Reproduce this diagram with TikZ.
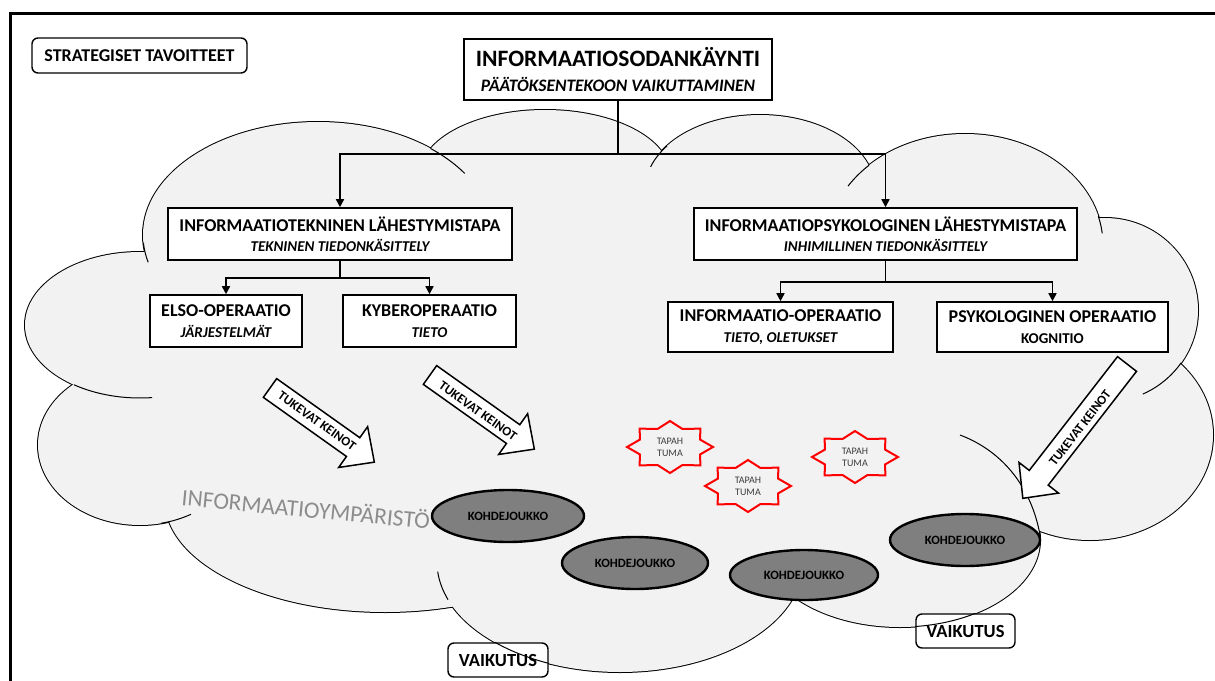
\documentclass[tikz,border=0pt]{standalone}
\usepackage{fontspec}
\setmainfont{Carlito}
\usetikzlibrary{arrows.meta,shapes.geometric,calc}
\definecolor{cloudfill}{RGB}{242,242,242}
\definecolor{kohdefill}{RGB}{127,127,127}
\definecolor{envtext}{RGB}{140,140,140}
\definecolor{starred}{RGB}{255,0,0}
\definecolor{startxt}{RGB}{60,60,60}
\newcommand{\lobearc}[6]{\draw[cloudline] ({#1+#3*cos(#5)},{#2+#4*sin(#5)}) arc[start angle=#5, end angle=#6, x radius=#3, y radius=#4];}
\newcommand{\tukarrow}[4]{\draw[blockarrow, shift={#1}, rotate=#2] (0,-#4) -- ({#3-26},-#4) -- ({#3-26},-25) -- (#3,0) -- ({#3-26},25) -- ({#3-26},#4) -- (0,#4) -- cycle;}
\newcommand{\starshape}[2]{\draw[starline] plot[domain=0:15, samples=16, variable=\k] ({#1+(43-10.5*mod(\k,2))*cos(\k*22.5)}, {#2+(26-6.5*mod(\k,2))*sin(\k*22.5)}) -- cycle;}
\newcommand{\subline}{\fontsize{15}{18}\selectfont\bfseries\itshape}
\begin{document}
\begin{tikzpicture}[x=1pt, y=-1pt,
  cloudline/.style={draw=black, line width=1pt},
  opbox/.style={draw=black, line width=1.6pt, fill=white, align=center, inner sep=0pt, font=\fontsize{18}{20.5}\selectfont\bfseries},
  conn/.style={draw=black, line width=1.6pt, -{Triangle[length=8pt, width=8pt]}},
  connplain/.style={draw=black, line width=1.6pt},
  roundbox/.style={draw=black, line width=1.4pt, fill=white, rounded corners=6pt, inner sep=0pt},
  kohde/.style={ellipse, draw=black, line width=2.4pt, fill=kohdefill, inner sep=0pt, font=\fontsize{12.7}{14}\selectfont\bfseries},
  starline/.style={draw=starred, line width=2pt, fill=cloudfill, line join=miter},
  startext/.style={align=center, inner sep=0pt, text=startxt, font=\fontsize{10}{12}\selectfont},
  blockarrow/.style={draw=black, line width=1.5pt, fill=white, line join=miter},
  tuktext/.style={inner sep=0pt, font=\fontsize{13}{15}\selectfont\bfseries}
]
\useasboundingbox (0,0) rectangle (1215,680);
\fill[white] (0,0) rectangle (1215,680);

% ---------- cloud ----------
\foreach \cx/\cy/\rx/\ry in {318/235/175/113, 545/175/125/65, 760/190/115/75, 965/245/138/111, 1105/310/93/92, 1090/435/123/105, 900/540/140/87, 620/562/183/110, 385/500/220/112, 140/445/102/80, 140/325/115/73}
  \draw[line width=2pt] (\cx,\cy) ellipse[x radius=\rx, y radius=\ry];
\foreach \cx/\cy/\rx/\ry in {318/235/175/113, 545/175/125/65, 760/190/115/75, 965/245/138/111, 1105/310/93/92, 1090/435/123/105, 900/540/140/87, 620/562/183/110, 385/500/220/112, 140/445/102/80, 140/325/115/73}
  \fill[cloudfill] (\cx,\cy) ellipse[x radius=\rx, y radius=\ry];
\fill[cloudfill] (620,380) ellipse[x radius=450, y radius=200];
% inner hooks of the cloud outline
\lobearc{318}{235}{175}{113}{176}{166}
\lobearc{318}{235}{175}{113}{-50}{-33}
\lobearc{140}{325}{115}{73}{125}{84}
\lobearc{140}{445}{102}{80}{78}{60}
\lobearc{620}{562}{183}{110}{160}{175}
\lobearc{1105}{310}{93}{92}{35}{66}
\lobearc{965}{245}{138}{111}{226}{212}
\lobearc{965}{245}{138}{111}{-15}{-6}
\lobearc{760}{190}{115}{75}{198}{216}
\draw[cloudline] (960,435) .. controls (1005,452) and (1032,490) .. (1040,535);

% ---------- frame ----------
\draw[line width=3pt] (10.5,720) -- (10.5,13) -- (1260,13);

% ---------- top labels ----------
\node[roundbox, minimum width=215, minimum height=35, font=\fontsize{18}{21}\selectfont\bfseries] (strat) at (139.5,55.5) {STRATEGISET TAVOITTEET};
\node[draw=black, line width=2.2pt, fill=white, align=center, inner sep=0pt, minimum width=308, minimum height=61, font=\fontsize{23.5}{25.5}\selectfont\bfseries] (title) at (618,69.5)
  {INFORMAATIOSODANKÄYNTI\\{\fontsize{17.5}{20}\selectfont\bfseries\itshape PÄÄTÖKSENTEKOON VAIKUTTAMINEN}};

% ---------- approach boxes ----------
\node[opbox, minimum width=344, minimum height=52] (lbox) at (340,234)
  {INFORMAATIOTEKNINEN LÄHESTYMISTAPA\\{\subline TEKNINEN TIEDONKÄSITTELY}};
\node[opbox, minimum width=383, minimum height=52] (rbox) at (885.5,234)
  {INFORMAATIOPSYKOLOGINEN LÄHESTYMISTAPA\\{\subline INHIMILLINEN TIEDONKÄSITTELY}};
\node[opbox, minimum width=152, minimum height=52] (elso) at (226,321)
  {ELSO-OPERAATIO\\{\subline JÄRJESTELMÄT}};
\node[opbox, minimum width=173, minimum height=52] (kyber) at (429.5,321)
  {KYBEROPERAATIO\\{\subline TIETO}};
\node[opbox, minimum width=225, minimum height=50] (infop) at (780.5,327)
  {INFORMAATIO-OPERAATIO\\{\subline TIETO, OLETUKSET}};
\node[opbox, minimum width=231, minimum height=50] (psy) at (1052.5,327)
  {PSYKOLOGINEN OPERAATIO\\{\fontsize{15}{18}\selectfont\bfseries KOGNITIO}};

% ---------- connectors ----------
\coordinate (j1) at (618,154);
\coordinate (j2) at (340,278);
\coordinate (j3) at (885.5,282);
\draw[connplain] (title.south) -- (j1);
\draw[conn] (j1) -| (lbox.north);
\draw[conn] (j1) -| (rbox.north);
\draw[connplain] (lbox.south) -- (j2);
\draw[conn] (j2) -| (elso.north);
\draw[conn] (j2) -| (kyber.north);
\draw[connplain] (rbox.south) -- (j3);
\draw[conn] (j3) -| (infop.north);
\draw[conn] (j3) -| (psy.north);

% ---------- supporting arrows ----------
\tukarrow{(270,388)}{-35.4}{128}{11.5}
\tukarrow{(430,375)}{-35.4}{128}{11.5}
\tukarrow{(1127,364)}{-127.8}{170}{12}
\node[tuktext, rotate=-35.4] (tk1) at (317,421) {TUKEVAT KEINOT};
\node[tuktext, rotate=-35.4] (tk2) at (478,411) {TUKEVAT KEINOT};
\node[tuktext, rotate=52.2] (tk3) at (1080,428) {TUKEVAT KEINOT};

% ---------- events ----------
\starshape{670}{447}
\starshape{748}{486}
\starshape{855}{457}
\node[startext] (ev1) at (670,447) {TAPAH\\TUMA};
\node[startext] (ev2) at (748,486) {TAPAH\\TUMA};
\node[startext] (ev3) at (855,457) {TAPAH\\TUMA};

% ---------- environment label ----------
\node[inner sep=0pt, text=envtext, rotate=-5.5, font=\fontsize{23.5}{27}\selectfont] (env) at (306,508) {INFORMAATIOYMPÄRISTÖ};

% ---------- target groups ----------
\node[kohde, minimum width=152, minimum height=52] (k1) at (508,516) {KOHDEJOUKKO};
\node[kohde, minimum width=146, minimum height=52] (k2) at (635,563) {KOHDEJOUKKO};
\node[kohde, minimum width=148, minimum height=50] (k3) at (804,575) {KOHDEJOUKKO};
\node[kohde, minimum width=150, minimum height=52] (k4) at (965,540) {KOHDEJOUKKO};

% ---------- effects ----------
\node[roundbox, minimum width=100, minimum height=34, font=\fontsize{18.5}{21}\selectfont\bfseries] (v1) at (498,660) {VAIKUTUS};
\node[roundbox, minimum width=99, minimum height=34, font=\fontsize{18.5}{21}\selectfont\bfseries] (v2) at (965.5,631) {VAIKUTUS};
\begin{scope}
  \clip (v1.south west) rectangle (v1.north east);
  \draw[cloudline] (620,562) ellipse[x radius=183, y radius=110];
\end{scope}
\begin{scope}
  \clip (v2.south west) rectangle (v2.north east);
  \draw[cloudline] (900,540) ellipse[x radius=140, y radius=87];
\end{scope}
\end{tikzpicture}
\end{document}
